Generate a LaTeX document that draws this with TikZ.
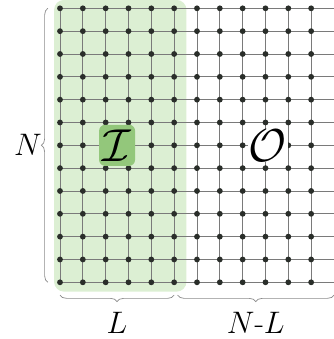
\RequirePackage{fix-cm}
\documentclass[tikz,border=0pt]{standalone}
\usepackage{amsmath}
\usetikzlibrary{decorations.pathreplacing, calc}
\definecolor{my_lightgreen}{HTML}{DCEFD3}
\definecolor{my_green}{HTML}{93C77B}
\definecolor{my_gridgray}{HTML}{7A7A7A}
\definecolor{my_dotblack}{HTML}{2A2E2A}
\definecolor{my_bracegray}{HTML}{8A8A8A}

\begin{document}
\begin{tikzpicture}[
    x=0.8cm, y=0.8cm,
    gridline/.style={my_gridgray, line width=0.8pt},
    site/.style={circle, fill=my_dotblack, inner sep=0pt, minimum size=5.8pt},
    bracket/.style={decorate, decoration={brace, amplitude=6.5pt},
        my_bracegray, line width=0.7pt},
    sizelabel/.style={font=\fontsize{31}{33}\selectfont},
    regionlabel/.style={font=\fontsize{46}{48}\selectfont, inner sep=1pt}
]
\useasboundingbox (-2.628,-2.483) rectangle (11.958,12.365);

% Lattice: 13 x 13 sites, spacing 1
%   columns 0..5  -> inner region (width L)
%   columns 6..12 -> outer region (width N-L), cut off at the right

% Shaded inner region
\fill[my_lightgreen, rounded corners=10pt] (-0.26,-0.41) rectangle (5.54,12.37);

% Bonds
\foreach \j in {0,...,12}
    \draw[gridline] (0,\j) -- (12.5,\j);
\foreach \i in {0,...,12}
    \draw[gridline] (\i,0) -- (\i,12);

% Sites
\foreach \i in {0,...,11}
    \foreach \j in {0,...,12}
        \node[site] (s-\i-\j) at (\i,\j) {};

% Region labels
\node[regionlabel, fill=my_green, rounded corners=6pt,
    minimum width=1.26cm, minimum height=1.44cm] (inner) at (2.5,6) {$\mathcal{I}$};
\node[regionlabel, fill=white] (outer) at (9.1,6) {$\mathcal{O}$};

% Braces
\coordinate (lb-bot) at (-0.53,0);
\coordinate (lb-top) at (-0.53,12);
\coordinate (bl-left) at (0,-0.56);
\coordinate (bl-right) at (5,-0.56);
\coordinate (br-left) at (5.15,-0.56);
\coordinate (br-right) at (12,-0.56);

\draw[bracket] (lb-bot) -- (lb-top);
\draw[bracket] (bl-right) -- (bl-left);
\draw[bracket] (br-right) -- (br-left);

% Size labels
\node[sizelabel] (n-label) at (-1.4,6) {$N$};
\node[sizelabel] (l-label) at ($(bl-left)!0.5!(bl-right) + (0,-1.22)$) {$L$};
\node[sizelabel] (nl-label) at ($(br-left)!0.5!(br-right) + (0,-1.22)$) {$N$-$L$};

\end{tikzpicture}
\end{document}
